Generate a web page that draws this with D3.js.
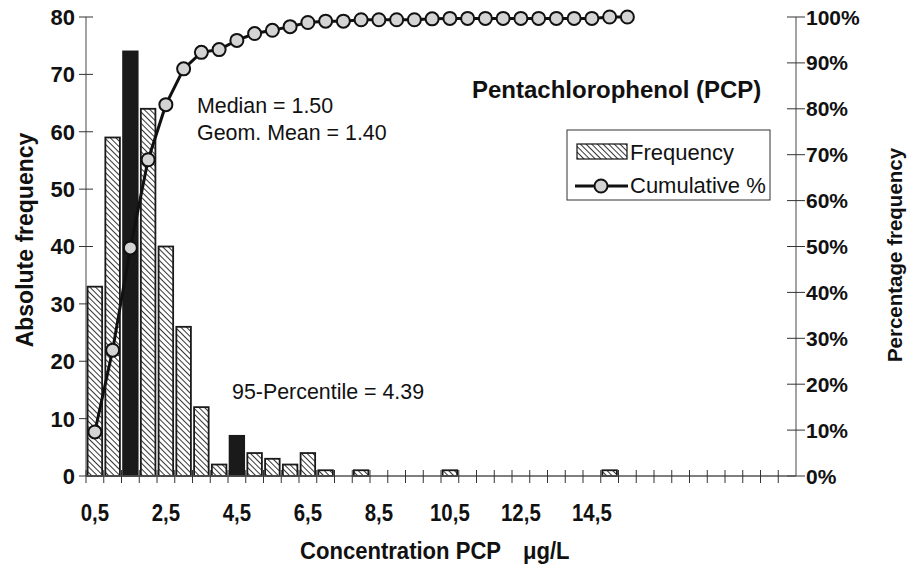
<!DOCTYPE html>
<html>
<head>
<meta charset="utf-8">
<script src="https://cdn.jsdelivr.net/npm/d3@7"></script>
<style>
  body { margin: 0; background: #fff; }
  text { font-family: "Liberation Sans", Arial, sans-serif; fill: #111; }
</style>
</head>
<body>
<div id="chart"></div>
<script>
// Histogram bins (upper class limit, µg/L)
const categories = ["0,5","1,0","1,5","2,0","2,5","3,0","3,5","4,0","4,5","5,0",
                    "5,5","6,0","6,5","7,0","7,5","8,0","8,5","9,0","9,5","10,0",
                    "10,5","11,0","11,5","12,0","12,5","13,0","13,5","14,0","14,5","15,0",
                    "15,5","16,0","16,5","17,0","17,5","18,0","18,5","19,0","19,5","20,0"];

// Absolute frequency per bin
const frequency = [33, 59, 74, 64, 40, 26, 12, 2, 7, 4,
                   3, 2, 4, 1, 0, 1, 0, 0, 0, 0,
                   1, 0, 0, 0, 0, 0, 0, 0, 0, 1,
                   0, 0, 0, 0, 0, 0, 0, 0, 0, 0];

// Cumulative % (drawn up to 15,5)
const cumulative = [9.6, 27.4, 49.7, 68.9, 80.9, 88.7, 92.3, 92.9, 94.9, 96.4,
                    97.1, 97.9, 98.8, 99.1, 99.1, 99.4, 99.4, 99.4, 99.4, 99.6,
                    99.7, 99.7, 99.7, 99.7, 99.7, 99.7, 99.7, 99.7, 99.7, 100, 100];

// bins drawn solid black (median and 95-percentile)
const highlighted = ["1,5", "4,5"];

const xTickLabels = ["0,5", "2,5", "4,5", "6,5", "8,5", "10,5", "12,5", "14,5"];
const yLeftTicks = [0, 10, 20, 30, 40, 50, 60, 70, 80];
const yRightTicks = [0, 10, 20, 30, 40, 50, 60, 70, 80, 90, 100];

const width = 914, height = 566;
const plotLeft = 86, plotRight = 796, plotTop = 17, plotBottom = 476;

const svg = d3.select("#chart").append("svg")
    .attr("width", width)
    .attr("height", height);

// hatch pattern for the bars ( \\\ direction )
const defs = svg.append("defs");
const pat = defs.append("pattern")
    .attr("id", "hatch")
    .attr("patternUnits", "userSpaceOnUse")
    .attr("width", 4).attr("height", 4)
    .attr("patternTransform", "rotate(-45)");
pat.append("rect").attr("width", 4).attr("height", 4).attr("fill", "#fff");
pat.append("line")
    .attr("x1", 0).attr("y1", 0).attr("x2", 0).attr("y2", 4)
    .attr("stroke", "#111").attr("stroke-width", 1.7);

const x = d3.scaleBand()
    .domain(categories)
    .range([plotLeft, plotRight])
    .paddingInner(0.18)
    .paddingOuter(0.09);

const y = d3.scaleLinear().domain([0, 80]).range([plotBottom, plotTop]);
const yPct = d3.scaleLinear().domain([0, 100]).range([plotBottom, plotTop]);
const step = x.step();

// axes lines
svg.append("line")
    .attr("x1", plotLeft).attr("x2", plotLeft).attr("y1", plotTop).attr("y2", plotBottom)
    .attr("stroke", "#666").attr("stroke-width", 1.2);
svg.append("line")
    .attr("x1", plotRight).attr("x2", plotRight).attr("y1", plotTop).attr("y2", plotBottom)
    .attr("stroke", "#666").attr("stroke-width", 1.2);

// left ticks
svg.append("g").selectAll("line")
    .data(yLeftTicks).enter().append("line")
    .attr("x1", plotLeft - 7).attr("x2", plotLeft + 7)
    .attr("y1", d => y(d)).attr("y2", d => y(d))
    .attr("stroke", "#333").attr("stroke-width", 1);
svg.append("g").selectAll("text")
    .data(yLeftTicks).enter().append("text")
    .attr("x", 75).attr("y", d => y(d))
    .attr("dy", "0.36em")
    .attr("text-anchor", "end")
    .style("font-size", "22px").style("font-weight", "bold")
    .text(d => d);

// right ticks
svg.append("g").selectAll("line")
    .data(yRightTicks).enter().append("line")
    .attr("x1", plotRight - 9).attr("x2", plotRight + 9)
    .attr("y1", d => yPct(d)).attr("y2", d => yPct(d))
    .attr("stroke", "#333").attr("stroke-width", 1);
svg.append("g").selectAll("text")
    .data(yRightTicks).enter().append("text")
    .attr("x", 806).attr("y", d => yPct(d))
    .attr("dy", "0.36em")
    .style("font-size", "21px").style("font-weight", "bold")
    .text(d => d + "%");

// bars
svg.append("g").selectAll("rect")
    .data(categories.map((c, i) => ({ cat: c, value: frequency[i] })).filter(d => d.value > 0))
    .enter().append("rect")
    .attr("x", d => x(d.cat))
    .attr("y", d => y(d.value))
    .attr("width", x.bandwidth())
    .attr("height", d => plotBottom - y(d.value))
    .attr("fill", d => highlighted.includes(d.cat) ? "#1a1a1a" : "url(#hatch)")
    .attr("stroke", "#1a1a1a")
    .attr("stroke-width", 1.8);

// category axis baseline and ticks (between categories)
svg.append("line")
    .attr("x1", plotLeft).attr("x2", plotRight).attr("y1", plotBottom).attr("y2", plotBottom)
    .attr("stroke", "#555").attr("stroke-width", 1.5);
svg.append("g").selectAll("line")
    .data(categories).enter().append("line")
    .attr("x1", d => x(d) - step * 0.09).attr("x2", d => x(d) - step * 0.09)
    .attr("y1", plotBottom - 6).attr("y2", plotBottom + 7)
    .attr("stroke", "#333").attr("stroke-width", 1);
// condensed bold labels
svg.append("g").selectAll("text")
    .data(xTickLabels).enter().append("text")
    .attr("transform", d => `translate(${x(d) + x.bandwidth() / 2},521) scale(0.85,1)`)
    .attr("text-anchor", "middle")
    .style("font-size", "24px").style("font-weight", "bold")
    .text(d => d);

// cumulative line
const cx = (d, i) => x(categories[i]) + x.bandwidth() / 2;
svg.append("path")
    .datum(cumulative)
    .attr("fill", "none")
    .attr("stroke", "#111")
    .attr("stroke-width", 3)
    .attr("d", d3.line().x(cx).y(d => yPct(d)));
svg.append("g").selectAll("circle")
    .data(cumulative).enter().append("circle")
    .attr("cx", cx)
    .attr("cy", d => yPct(d))
    .attr("r", 6.5)
    .attr("fill", "#d4d4d4")
    .attr("stroke", "#111")
    .attr("stroke-width", 2);

// annotations
svg.append("text").attr("x", 197).attr("y", 113)
    .style("font-size", "21.4px").text("Median = 1.50");
svg.append("text").attr("x", 197).attr("y", 140)
    .style("font-size", "21.4px").text("Geom. Mean = 1.40");
svg.append("text").attr("x", 232).attr("y", 399)
    .style("font-size", "21.4px").text("95-Percentile = 4.39");
svg.append("text").attr("x", 472).attr("y", 98)
    .style("font-size", "24px").style("font-weight", "bold")
    .text("Pentachlorophenol (PCP)");

// legend
const lg = svg.append("g");
lg.append("rect")
    .attr("x", 567).attr("y", 130).attr("width", 203).attr("height", 70)
    .attr("fill", "#fff").attr("stroke", "#333").attr("stroke-width", 1);
lg.append("rect")
    .attr("x", 577).attr("y", 144).attr("width", 50).attr("height", 15)
    .attr("fill", "url(#hatch)").attr("stroke", "#111").attr("stroke-width", 1.2);
lg.append("text").attr("x", 630).attr("y", 160)
    .style("font-size", "22px").text("Frequency");
lg.append("line")
    .attr("x1", 575).attr("x2", 628).attr("y1", 186).attr("y2", 186)
    .attr("stroke", "#111").attr("stroke-width", 3);
lg.append("circle")
    .attr("cx", 601).attr("cy", 186).attr("r", 6.5)
    .attr("fill", "#d4d4d4").attr("stroke", "#111").attr("stroke-width", 2);
lg.append("text").attr("x", 630).attr("y", 193)
    .style("font-size", "22px").text("Cumulative %");

// axis titles
svg.append("text")
    .attr("transform", "translate(33,240) rotate(-90)")
    .attr("text-anchor", "middle")
    .style("font-size", "23px").style("font-weight", "bold")
    .text("Absolute frequency");
svg.append("text")
    .attr("transform", "translate(902,255) rotate(-90)")
    .attr("text-anchor", "middle")
    .style("font-size", "20.5px").style("font-weight", "bold")
    .text("Percentage frequency");
svg.append("text")
    .attr("transform", "translate(300,559) scale(0.96,1)")
    .style("font-size", "23px").style("font-weight", "bold")
    .text("Concentration PCP");
svg.append("text")
    .attr("transform", "translate(523,559) scale(0.96,1)")
    .style("font-size", "23px").style("font-weight", "bold")
    .text("μg/L");
</script>
</body>
</html>
